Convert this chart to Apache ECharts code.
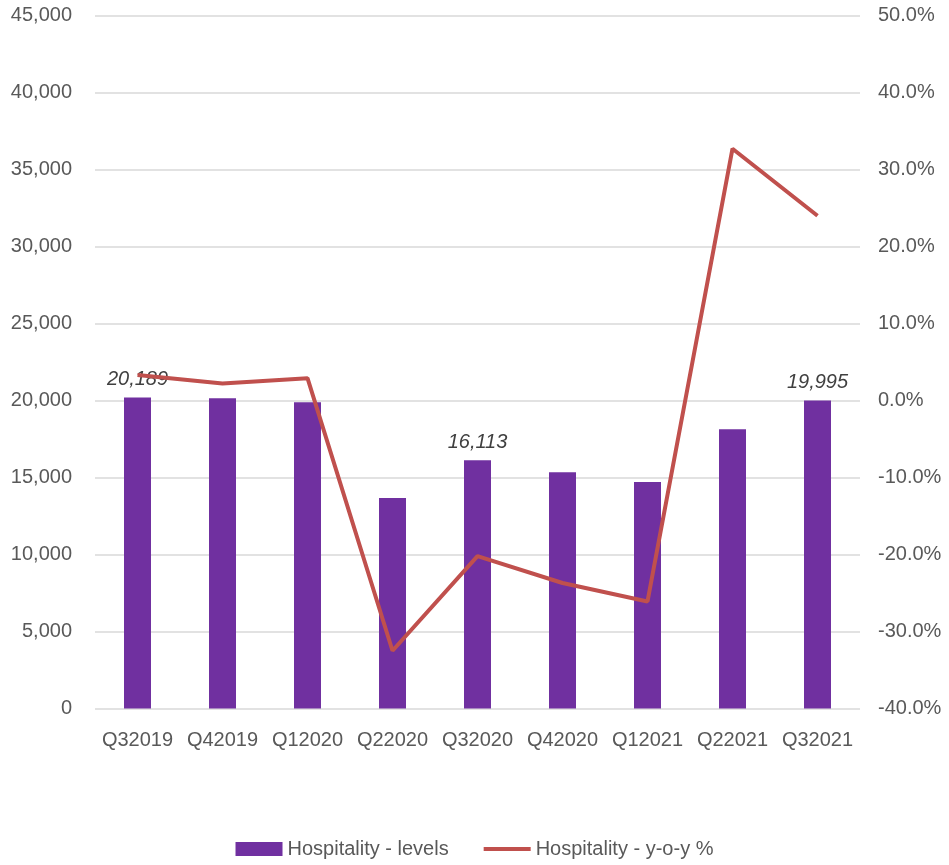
<!DOCTYPE html>
<html><head><meta charset="utf-8">
<script src="https://cdn.jsdelivr.net/npm/echarts@6/dist/echarts.min.js"></script>
<style>html,body{margin:0;padding:0;background:#fff}#c{width:949px;height:865px}</style>
</head><body><div id="c"></div>
<script>
const categories = ['Q32019','Q42019','Q12020','Q22020','Q32020','Q42020','Q12021','Q22021','Q32021'];
const levels = [20189, 20145, 19885, 13670, 16113, 15340, 14705, 18130, 19995];
const yoy = [0.033, 0.022, 0.029, -0.325, -0.202, -0.237, -0.261, 0.327, 0.240];
const labeledIdx = [0, 4, 8];
const leftTicks = {min: 0, max: 45000, interval: 5000};
const rightTicks = {min: -0.4, max: 0.5, interval: 0.1};

const FONT = '"Liberation Sans", Arial, sans-serif';
const chart = echarts.init(document.getElementById('c'), null, {renderer: 'canvas'});
chart.setOption({
  animation: false,
  textStyle: {fontFamily: FONT},
  grid: {left: 95, right: 89, top: 15.5, bottom: 156.5, containLabel: false},
  legend: {
    bottom: 1, left: 'center', itemWidth: 47, itemHeight: 14, itemGap: 35,
    textStyle: {fontSize: 20, color: '#595959', fontFamily: FONT},
    data: [
      {name: 'Hospitality - levels', icon: 'rect'},
      {name: 'Hospitality - y-o-y %', icon: 'path://M0,0h47v4h-47z'}
    ]
  },
  xAxis: {
    type: 'category', data: categories,
    axisLine: {show: false}, axisTick: {show: false},
    axisLabel: {fontSize: 20, color: '#595959', margin: 22, interval: 0, fontFamily: FONT}
  },
  yAxis: [
    {type: 'value', min: leftTicks.min, max: leftTicks.max, interval: leftTicks.interval,
     axisLine: {show: false}, axisTick: {show: false},
     splitLine: {lineStyle: {color: '#d9d9d9', width: 1.5}},
     axisLabel: {fontSize: 20, color: '#595959', margin: 23, fontFamily: FONT,
       formatter: v => v.toLocaleString('en-US')}},
    {type: 'value', min: rightTicks.min, max: rightTicks.max, interval: rightTicks.interval,
     axisLine: {show: false}, axisTick: {show: false}, splitLine: {show: false},
     axisLabel: {fontSize: 20, color: '#595959', margin: 18, fontFamily: FONT,
       formatter: v => (v * 100).toFixed(1) + '%'}}
  ],
  series: [
    {name: 'Hospitality - levels', type: 'bar', yAxisIndex: 0, barWidth: 27,
     itemStyle: {color: '#7030A0'},
     data: levels.map((v, i) => labeledIdx.includes(i) ? {value: v, label: {show: true}} : v),
     label: {show: false, position: 'top', distance: 8, fontSize: 20, fontStyle: 'italic',
       color: '#404040', fontFamily: FONT, formatter: p => p.value.toLocaleString('en-US')}},
    {name: 'Hospitality - y-o-y %', type: 'line', yAxisIndex: 1, data: yoy,
     symbol: 'none', z: 5,
     lineStyle: {color: '#C0504D', width: 4}, itemStyle: {color: '#C0504D'}}
  ]
});
</script></body></html>
